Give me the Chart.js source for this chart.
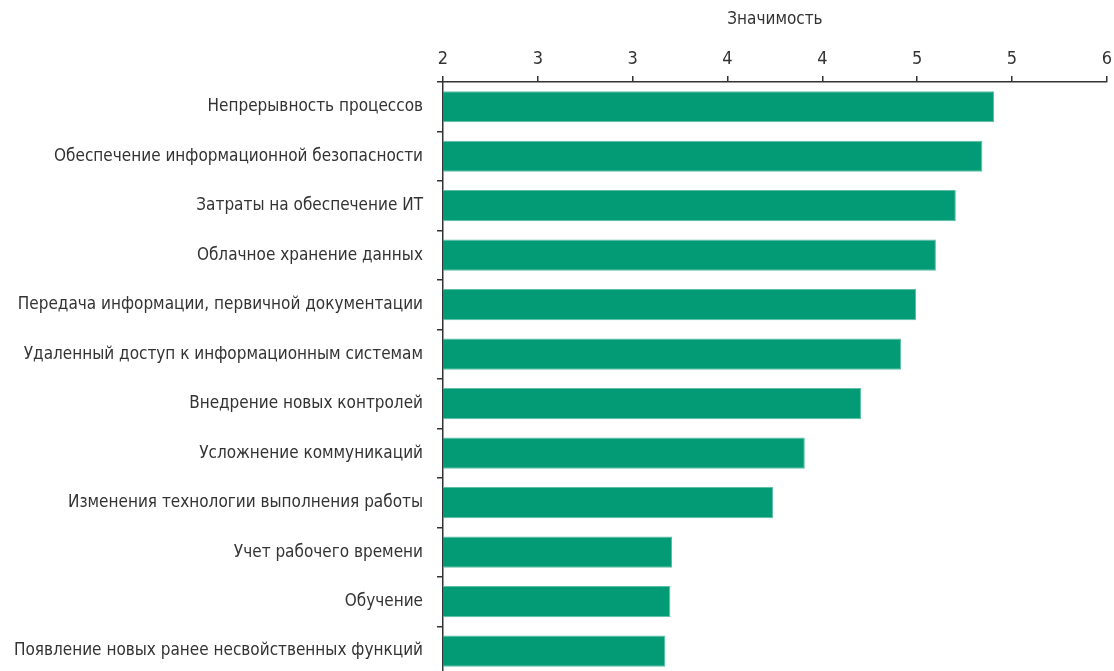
<!DOCTYPE html>
<html lang="ru">
<head>
<meta charset="utf-8">
<title>Значимость</title>
<script src="https://cdn.jsdelivr.net/npm/chart.js@4"></script>
<style>
    html, body { margin: 0; padding: 0; background: #fff; overflow: hidden; }
    #wrap { position: absolute; left: 0; top: 0; width: 1118px; height: 700px; }
</style>
</head>
<body>
<div id="wrap"><canvas id="chart-importance"></canvas></div>
<script>
// Данные графика
const CATEGORIES = [
    'Непрерывность процессов',
    'Обеспечение информационной безопасности',
    'Затраты на обеспечение ИТ',
    'Облачное хранение данных',
    'Передача информации, первичной документации',
    'Удаленный доступ к информационным системам',
    'Внедрение новых контролей',
    'Усложнение коммуникаций',
    'Изменения технологии выполнения работы',
    'Учет рабочего времени',
    'Обучение',
    'Появление новых ранее несвойственных функций'
];
const VALUES = [5.32, 5.25, 5.09, 4.97, 4.85, 4.76, 4.52, 4.18, 3.99, 3.38, 3.37, 3.34];
const AXIS_MIN = 2;
const AXIS_MAX = 6;
const AXIS_STEPS = 7;
const AXIS_TITLE = 'Значимость';

const FONT = "'Liberation Sans Narrow', 'DejaVu Sans Condensed', 'Liberation Sans', sans-serif";
const TEXT = '#333333';
const AXIS = '#333333';
const BAR = '#039a76';

new Chart(document.getElementById('chart-importance'), {
    type: 'bar',
    data: {
        labels: CATEGORIES,
        datasets: [{ data: VALUES, backgroundColor: BAR, borderColor: '#5cbfa4', borderWidth: 1, borderSkipped: false, barPercentage: 0.63, categoryPercentage: 1 }]
    },
    options: {
        indexAxis: 'y',
        responsive: true, maintainAspectRatio: false, animation: false,
        layout: { padding: { left: 0, right: 1, top: 0, bottom: 0 } },
        scales: {
            x: {
                position: 'top', min: AXIS_MIN, max: AXIS_MAX,
                afterBuildTicks: (axis) => {
                    const step = (AXIS_MAX - AXIS_MIN) / AXIS_STEPS;
                    axis.ticks = Array.from({ length: AXIS_STEPS + 1 }, (_, i) => ({ value: AXIS_MIN + i * step }));
                },
                afterFit: (axis) => { axis.height = 82; },
                border: { color: AXIS, width: 1.5 },
                grid: { drawOnChartArea: false, color: AXIS, tickLength: 6, lineWidth: 1.5 },
                ticks: { color: TEXT, padding: 6, maxRotation: 0, font: { family: FONT, size: 18 }, callback: (v) => Number(v).toFixed(0) },
                title: { display: true, text: AXIS_TITLE, color: TEXT, padding: { top: 9, bottom: 0 }, font: { family: FONT, size: 17 } }
            },
            y: {
                afterFit: (axis) => { axis.width = 443; },
                border: { color: AXIS, width: 1.5 },
                grid: { drawOnChartArea: false, color: AXIS, tickLength: 6, lineWidth: 1.5, offset: true },
                ticks: { color: TEXT, padding: 14, font: { family: FONT, size: 17 } }
            }
        },
        plugins: { legend: { display: false }, tooltip: { enabled: false } }
    }
});
</script>
</body>
</html>
